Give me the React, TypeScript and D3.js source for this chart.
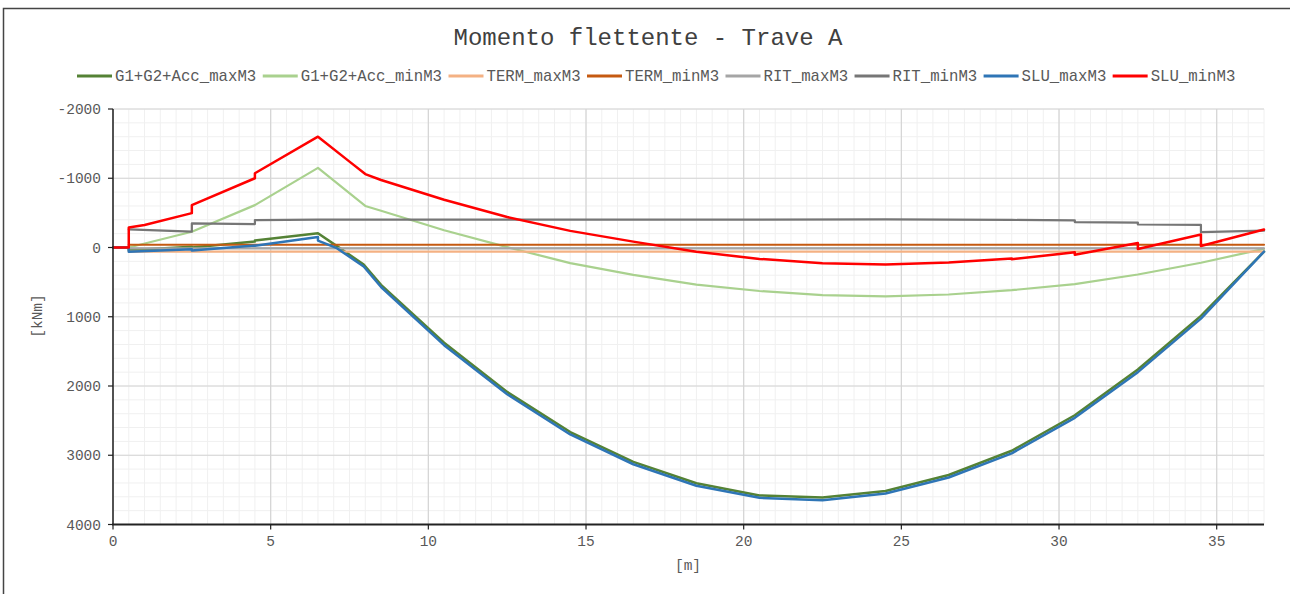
import React from 'react';
import * as d3 from 'd3';

// values: [x in m, moment in kNm]
const G1_maxM3: [number, number][] = [
  [0, 0], [0.5, 0], [0.5, 40], [2.5, -10], [2.5, 0], [4.5, -85], [4.5, -100], [6.5, -205],
  [7.1, -20], [7.95, 245], [8.5, 540], [10.5, 1375], [12.5, 2085], [14.5, 2665], [16.5, 3095],
  [18.5, 3405], [20.5, 3580], [22.5, 3610], [24.5, 3515], [26.5, 3285], [28.5, 2935],
  [30.5, 2422], [32.5, 1762], [34.5, 988], [36.5, 60],
];
const G1_minM3: [number, number][] = [
  [0.5, 0], [2.5, -228], [4.5, -612], [6.5, -1150], [8.0, -600], [8.5, -530], [10.5, -250],
  [12.5, -5], [14.5, 225], [16.5, 396], [18.5, 535], [20.5, 628], [22.5, 689], [24.5, 705],
  [26.5, 679], [28.5, 616], [30.5, 530], [32.5, 390], [34.5, 220], [36.5, 20],
];
const TERM_maxM3: [number, number][] = [[0.5, 60], [36.5, 60]];
const TERM_minM3: [number, number][] = [[0.5, -40], [36.5, -40]];
const RIT_maxM3: [number, number][] = [[0.5, 12], [36.5, 12]];
const RIT_minM3: [number, number][] = [
  [0.5, -262], [2.5, -228], [2.5, -348], [4.5, -338], [4.5, -396], [6.5, -402], [12.5, -402],
  [18.5, -402], [24.5, -405], [28.5, -398], [30.5, -392], [30.5, -367], [32.5, -360],
  [32.5, -332], [34.5, -328], [34.5, -221], [36.5, -244],
];
const SLU_maxM3: [number, number][] = [
  [0, 0], [0.5, 0], [0.5, 60], [2.5, 25], [2.5, 45], [4.5, -30], [4.5, -25], [6.5, -150],
  [6.5, -100], [7.1, 10], [7.95, 275], [8.5, 570], [10.5, 1410], [12.5, 2120], [14.5, 2700],
  [16.5, 3130], [18.5, 3440], [20.5, 3615], [22.5, 3650], [24.5, 3553], [26.5, 3321],
  [28.5, 2972], [30.5, 2460], [32.5, 1800], [34.5, 1027], [36.5, 60],
];
const SLU_minM3: [number, number][] = [
  [0, 0], [0.5, 0], [0.5, -290], [1.0, -325], [2.5, -496], [2.5, -611], [4.5, -1000],
  [4.5, -1072], [6.5, -1600], [7.5, -1240], [8.0, -1060], [8.5, -975], [10.5, -690],
  [12.5, -440], [14.5, -240], [16.5, -85], [18.5, 60], [20.5, 165], [22.5, 228], [24.5, 245],
  [26.5, 215], [28.5, 160], [28.5, 170], [30.5, 70], [30.5, 105], [32.5, -65], [32.5, 22],
  [34.5, -187], [34.5, -22], [36.5, -259],
];

const seriesNames = [
  'G1+G2+Acc_maxM3', 'G1+G2+Acc_minM3', 'TERM_maxM3', 'TERM_minM3',
  'RIT_maxM3', 'RIT_minM3', 'SLU_maxM3', 'SLU_minM3',
];
const seriesData = [G1_maxM3, G1_minM3, TERM_maxM3, TERM_minM3, RIT_maxM3, RIT_minM3, SLU_maxM3, SLU_minM3];
const colors = ['#548235', '#A9D18E', '#F4B183', '#C55A11', '#A5A5A5', '#767676', '#2E75B6', '#FF0000'];
const widths = [2.5, 2.2, 2.2, 2.2, 2.2, 2.2, 2.5, 2.5];

const xTicks = [0, 5, 10, 15, 20, 25, 30, 35];
const yTicks = [-2000, -1000, 0, 1000, 2000, 3000, 4000];

const W = 1290;
const H = 594;
const font = '"Liberation Mono", "DejaVu Sans Mono", monospace';

export default function App() {
  const x = d3.scaleLinear().domain([0, 36.5]).range([113, 1264]);
  const y = d3.scaleLinear().domain([-2000, 4000]).range([109, 524.5]);
  const line = d3.line<[number, number]>().x((d) => x(d[0])).y((d) => y(d[1]));

  const minorX = d3.range(0, 36.5001, 0.5);
  const minorY = d3.range(-2000, 4001, 200);

  // legend layout
  const charW = 9.45;
  const sample = 35;
  let lx = 77;
  const legendItems = seriesNames.map((n, i) => {
    const item = { n, i, x: lx };
    lx += sample + 3 + n.length * charW + 6;
    return item;
  });

  return (
    <svg width={W} height={H} style={{ position: 'absolute', left: 0, top: 0, background: '#fff' }}>
      <rect x={3.5} y={8.5} width={1400} height={700} fill="#fff" stroke="#444" strokeWidth={1.5} />
      <text x={648} y={45} textAnchor="middle" fontFamily={font} fontSize={24} fill="#404040">
        Momento flettente - Trave A
      </text>

      {legendItems.map((it) => (
        <g key={it.n}>
          <line x1={it.x} x2={it.x + sample} y1={76} y2={76} stroke={colors[it.i]} strokeWidth={3} />
          <text x={it.x + sample + 3} y={81} fontFamily={font} fontSize={15.7} fill="#595959">
            {it.n}
          </text>
        </g>
      ))}

      {/* grid */}
      {minorX.map((v) => (
        <line key={'mx' + v} x1={x(v)} x2={x(v)} y1={y(-2000)} y2={y(4000)} stroke="#F0F0F0" strokeWidth={1} />
      ))}
      {minorY.map((v) => (
        <line key={'my' + v} x1={x(0)} x2={x(36.5)} y1={y(v)} y2={y(v)} stroke="#F0F0F0" strokeWidth={1} />
      ))}
      {xTicks.map((v) => (
        <line key={'gx' + v} x1={x(v)} x2={x(v)} y1={y(-2000)} y2={y(4000)} stroke="#D4D4D4" strokeWidth={1.2} />
      ))}
      {yTicks.map((v) => (
        <line key={'gy' + v} x1={x(0)} x2={x(36.5)} y1={y(v)} y2={y(v)} stroke="#D4D4D4" strokeWidth={1.2} />
      ))}

      {/* series */}
      {seriesData.map((d, i) => (
        <path key={seriesNames[i]} d={line(d) ?? ''} fill="none" stroke={colors[i]} strokeWidth={widths[i]}
          strokeLinejoin="round" strokeLinecap="round" />
      ))}

      {/* axes */}
      <line x1={x(0)} x2={x(0)} y1={y(-2000)} y2={y(4000)} stroke="#222" strokeWidth={1.5} />
      <line x1={x(0) - 1} x2={x(36.5)} y1={y(4000)} y2={y(4000)} stroke="#222" strokeWidth={2} />
      {yTicks.map((v) => (
        <g key={'ty' + v}>
          <line x1={x(0) - 5} x2={x(0)} y1={y(v)} y2={y(v)} stroke="#222" strokeWidth={1.2} />
          <text x={101} y={y(v) + 5} textAnchor="end" fontFamily={font} fontSize={14.5} fill="#595959">
            {v}
          </text>
        </g>
      ))}
      {xTicks.map((v) => (
        <g key={'tx' + v}>
          <line x1={x(v)} x2={x(v)} y1={y(4000)} y2={y(4000) + 5} stroke="#222" strokeWidth={1.2} />
          <text x={x(v)} y={546} textAnchor="middle" fontFamily={font} fontSize={14.5} fill="#595959">
            {v}
          </text>
        </g>
      ))}
      <text x={688} y={570} textAnchor="middle" fontFamily={font} fontSize={14.5} fill="#595959">[m]</text>
      <text transform="translate(42,316) rotate(-90)" textAnchor="middle" fontFamily={font} fontSize={14.5}
        fill="#595959">[kNm]</text>
    </svg>
  );
}
